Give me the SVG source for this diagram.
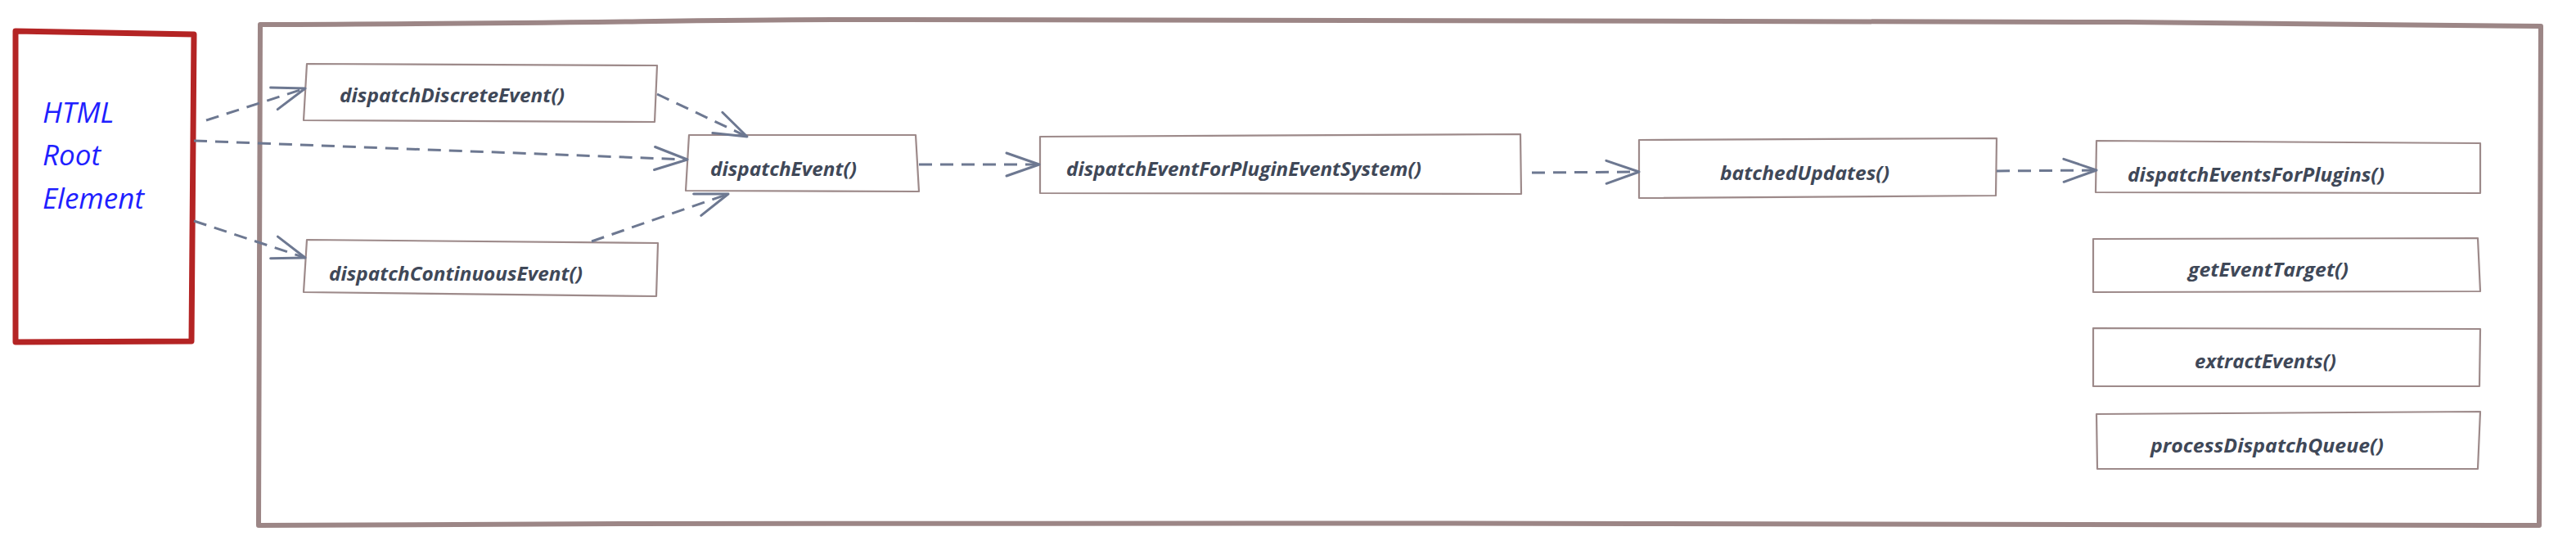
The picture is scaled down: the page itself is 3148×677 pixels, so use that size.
<svg xmlns="http://www.w3.org/2000/svg" width="3148" height="677" viewBox="0 0 3148 677">
<style>
  .bg { fill: #ffffff; }
  .frame { fill: none; stroke: #9c8686; stroke-width: 6; stroke-linejoin: round; stroke-linecap: round; }
  .root { fill: #ffffff; stroke: #b42424; stroke-width: 7; stroke-linejoin: round; }
  .rootText { font-family: "Open Sans", "Noto Sans", sans-serif; font-style: italic; font-size: 35px; fill: #1f1fff; }
  .box { fill: #ffffff; stroke: #9d8a8a; stroke-width: 2.2; stroke-linejoin: round; }
  .lbl { font-family: "Open Sans", "Noto Sans", sans-serif; font-style: italic; font-weight: 700; font-size: 23px; fill: #3f4858; }
  .conn { fill: none; stroke: #6d7891; stroke-width: 3; stroke-dasharray: 16 10; stroke-linecap: butt; }
  .head { fill: none; stroke: #6d7891; stroke-width: 3; stroke-dasharray: none; stroke-linecap: round; stroke-linejoin: round; }
</style>
<defs>
  <marker id="arrow" markerUnits="userSpaceOnUse" markerWidth="60" markerHeight="40" viewBox="-46 -20 50 40" refX="0" refY="0" orient="auto">
    <path class="head" d="M-40,-14 L0,0 L-40,14"/>
  </marker>
</defs>
<rect class="bg" x="0" y="0" width="3148" height="677"/>

<g id="container">
  <path class="frame" d="M318,30 C700,29 900,23 1100,24 C1500,26 2000,25 2600,27 C2850,28 3000,30 3105,32 L3104,340 L3103,642 C2700,642 2400,640 2000,640 C1500,639 900,637 760,640 L316,642 L317,330 Z"/>
</g>

<g id="root-element">
  <path class="root" d="M19,38 L237,42 L234,417 L19,418 C18,300 20,150 19,38 Z"/>
  <text class="rootText" x="52" y="150">HTML</text>
  <text class="rootText" x="52" y="202">Root</text>
  <text class="rootText" x="52" y="255">Element</text>
</g>

<g id="node-dispatchDiscreteEvent">
  <path class="box" d="M375,78 L803,80 L800,149 L371,147 Z"/>
  <text class="lbl" x="415" y="125" textLength="275" lengthAdjust="spacingAndGlyphs">dispatchDiscreteEvent()</text>
</g>

<g id="node-dispatchContinuousEvent">
  <path class="box" d="M375,293 L804,297 L802,362 L371,357 Z"/>
  <text class="lbl" x="402" y="343" textLength="310" lengthAdjust="spacingAndGlyphs">dispatchContinuousEvent()</text>
</g>

<g id="node-dispatchEvent">
  <path class="box" d="M842,165 L1119,165 L1123,234 L838,233 Z"/>
  <text class="lbl" x="868" y="215" textLength="179" lengthAdjust="spacingAndGlyphs">dispatchEvent()</text>
</g>

<g id="node-dispatchEventForPluginEventSystem">
  <path class="box" d="M1271,167 L1858,164 L1859,237 L1271,236 Z"/>
  <text class="lbl" x="1303" y="215" textLength="434" lengthAdjust="spacingAndGlyphs">dispatchEventForPluginEventSystem()</text>
</g>

<g id="node-batchedUpdates">
  <path class="box" d="M2003,171 L2440,169 L2439,239 L2003,242 Z"/>
  <text class="lbl" x="2102" y="220" textLength="207" lengthAdjust="spacingAndGlyphs">batchedUpdates()</text>
</g>

<g id="node-dispatchEventsForPlugins">
  <path class="box" d="M2562,172 L3031,175 L3031,236 L2561,235 Z"/>
  <text class="lbl" x="2600" y="222" textLength="314" lengthAdjust="spacingAndGlyphs">dispatchEventsForPlugins()</text>
</g>

<g id="node-getEventTarget">
  <path class="box" d="M2558,292 L3028,291 L3031,356 L2558,357 Z"/>
  <text class="lbl" x="2674" y="338" textLength="196" lengthAdjust="spacingAndGlyphs">getEventTarget()</text>
</g>

<g id="node-extractEvents">
  <path class="box" d="M2558,401 L3031,402 L3030,472 L2558,472 Z"/>
  <text class="lbl" x="2682" y="450" textLength="173" lengthAdjust="spacingAndGlyphs">extractEvents()</text>
</g>

<g id="node-processDispatchQueue">
  <path class="box" d="M2562,506 L3031,503 L3028,573 L2563,573 Z"/>
  <text class="lbl" x="2628" y="553" textLength="285" lengthAdjust="spacingAndGlyphs">processDispatchQueue()</text>
</g>

<g id="connectors">
  <path class="conn" d="M252,147 L373,108" marker-end="url(#arrow)"/>
  <path class="conn" d="M237,172 L840,195" marker-end="url(#arrow)"/>
  <path class="conn" d="M237,270 L373,315" marker-end="url(#arrow)"/>
  <path class="conn" d="M803,115 L913,167" marker-end="url(#arrow)"/>
  <path class="conn" d="M723,295 L890,237" marker-end="url(#arrow)"/>
  <path class="conn" d="M1123,201 L1270,201" marker-end="url(#arrow)"/>
  <path class="conn" d="M1872,211 L2003,210" marker-end="url(#arrow)"/>
  <path class="conn" d="M2440,209 L2562,208" marker-end="url(#arrow)"/>
</g>
</svg>
